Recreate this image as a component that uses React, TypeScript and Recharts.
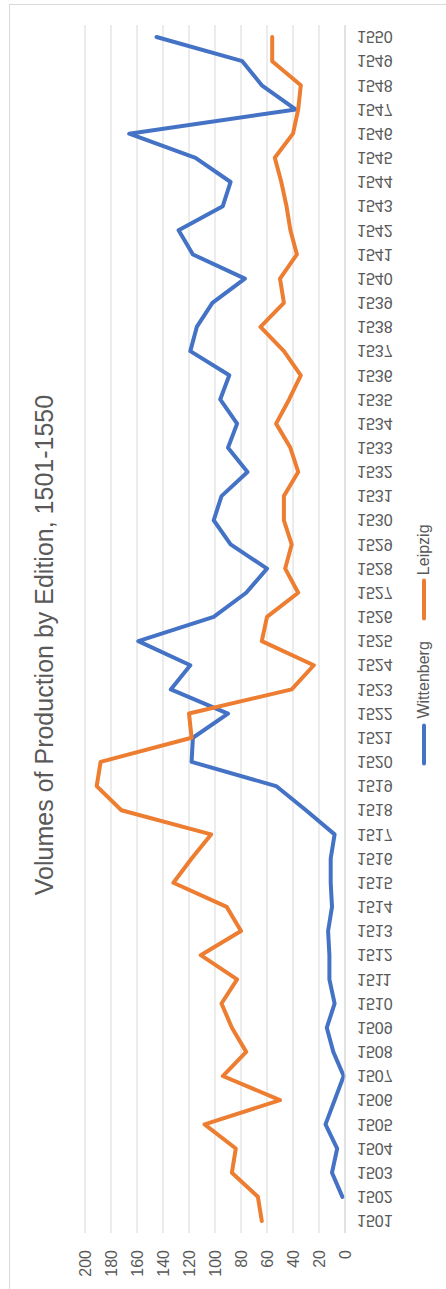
import React from "react";
import { LineChart, Line, XAxis, YAxis, CartesianGrid } from "recharts";

const years: string[] = [
  "1501","1502","1503","1504","1505","1506","1507","1508","1509","1510",
  "1511","1512","1513","1514","1515","1516","1517","1518","1519","1520",
  "1521","1522","1523","1524","1525","1526","1527","1528","1529","1530",
  "1531","1532","1533","1534","1535","1536","1537","1538","1539","1540",
  "1541","1542","1543","1544","1545","1546","1547","1548","1549","1550",
];

const wittenberg: (number | null)[] = [
  null, 2, 10, 6, 15, null, 1, 9, 14, 8,
  12, 12, 13, 10, 11, 11, 8, 30, 53, 118,
  117, 90, 134, 119, 159, 101, 76, 60, 88, 101,
  95, 75, 90, 83, 96, 89, 119, 114, 102, 77,
  117, 128, 94, 88, 115, 166, 38, 64, 79, 145,
];

const leipzig: number[] = [
  64, 67, 87, 84, 108, 50, 94, 76, 87, 95,
  83, 111, 80, 91, 132, 118, 103, 172, 191, 188,
  118, 120, 41, 24, 64, 60, 36, 46, 41, 47,
  47, 36, 42, 53, 43, 34, 47, 65, 47, 50,
  37, 42, 45, 49, 54, 40, 36, 34, 56, 56,
];

const valueTicks: number[] = [0, 20, 40, 60, 80, 100, 120, 140, 160, 180, 200];

const titleText = "Volumes of Production by Edition, 1501-1550";
const seriesNames = { wittenberg: "Wittenberg", leipzig: "Leipzig" };
const colors = { wittenberg: "#4472C4", leipzig: "#ED7D31" };

const data = years.map((y, i) => ({
  year: y,
  wittenberg: wittenberg[i],
  leipzig: leipzig[i],
}));

const FONT = "'Liberation Sans', Arial, sans-serif";
const TEXT_COLOR = "#595959";

const ValueTick = (props: any) => {
  const { x, y, payload } = props;
  return (
    <g transform={`translate(${x},${y}) rotate(-90)`}>
      <text
        x={0}
        y={0}
        dy="0.36em"
        textAnchor="end"
        fill={TEXT_COLOR}
        fontSize={16}
        fontFamily={FONT}
      >
        {payload.value}
      </text>
    </g>
  );
};

const YearTick = (props: any) => {
  const { x, y, payload } = props;
  return (
    <g transform={`translate(${x},${y}) scale(1,-1)`}>
      <text
        x={0}
        y={0}
        dy="0.36em"
        textAnchor="start"
        fill={TEXT_COLOR}
        fontSize={16}
        fontFamily={FONT}
      >
        {payload.value}
      </text>
    </g>
  );
};

export default function App() {
  return (
    <div
      style={{
        position: "absolute",
        left: 0,
        top: 0,
        width: 446,
        height: 1289,
        overflow: "hidden",
        background: "#ffffff",
      }}
    >
      <div
        style={{
          position: "absolute",
          left: 9,
          top: 4,
          width: 520,
          height: 1400,
          border: "1px solid #d9d9d9",
        }}
      />
      <div style={{ position: "absolute", left: 0, top: 0 }}>
        <LineChart
          width={446}
          height={1289}
          data={data}
          layout="vertical"
          margin={{ top: 25, right: 41, bottom: 16, left: 85 }}
        >
          <CartesianGrid horizontal={false} vertical={true} stroke="#d9d9d9" strokeWidth={1} />
          <XAxis
            type="number"
            domain={[0, 200]}
            ticks={valueTicks}
            reversed
            orientation="bottom"
            height={40}
            axisLine={false}
            tickLine={false}
            tickSize={0}
            tickMargin={17}
            tick={<ValueTick />}
            interval={0}
          />
          <YAxis
            type="category"
            dataKey="year"
            orientation="right"
            reversed
            width={60}
            padding={{ top: 12, bottom: 12 }}
            axisLine={{ stroke: "#d9d9d9", strokeWidth: 1 }}
            tickLine={false}
            tickSize={0}
            tickMargin={12}
            tick={<YearTick />}
            interval={0}
          />
          <Line
            dataKey="wittenberg"
            name={seriesNames.wittenberg}
            stroke={colors.wittenberg}
            strokeWidth={4}
            strokeLinejoin="round"
            strokeLinecap="round"
            dot={false}
            activeDot={false}
            isAnimationActive={false}
          />
          <Line
            dataKey="leipzig"
            name={seriesNames.leipzig}
            stroke={colors.leipzig}
            strokeWidth={4}
            strokeLinejoin="round"
            strokeLinecap="round"
            dot={false}
            activeDot={false}
            isAnimationActive={false}
          />
        </LineChart>
      </div>
      <div
        style={{
          position: "absolute",
          left: 44,
          top: 645,
          transform: "translate(-50%,-50%) rotate(-90deg)",
          whiteSpace: "nowrap",
          fontFamily: FONT,
          fontSize: 25,
          lineHeight: 1,
          color: TEXT_COLOR,
        }}
      >
        {titleText}
      </div>
      <div
        style={{
          position: "absolute",
          left: 424,
          top: 645,
          transform: "translate(-50%,-50%) rotate(-90deg)",
          whiteSpace: "nowrap",
          fontFamily: FONT,
          fontSize: 16,
          lineHeight: 1,
          color: TEXT_COLOR,
          display: "flex",
          alignItems: "center",
        }}
      >
        <span style={{ display: "inline-block", width: 42, height: 4, borderRadius: 2, background: colors.wittenberg }} />
        <span style={{ marginLeft: 5 }}>{seriesNames.wittenberg}</span>
        <span style={{ display: "inline-block", width: 42, height: 4, borderRadius: 2, background: colors.leipzig, marginLeft: 21 }} />
        <span style={{ marginLeft: 3 }}>{seriesNames.leipzig}</span>
      </div>
    </div>
  );
}
